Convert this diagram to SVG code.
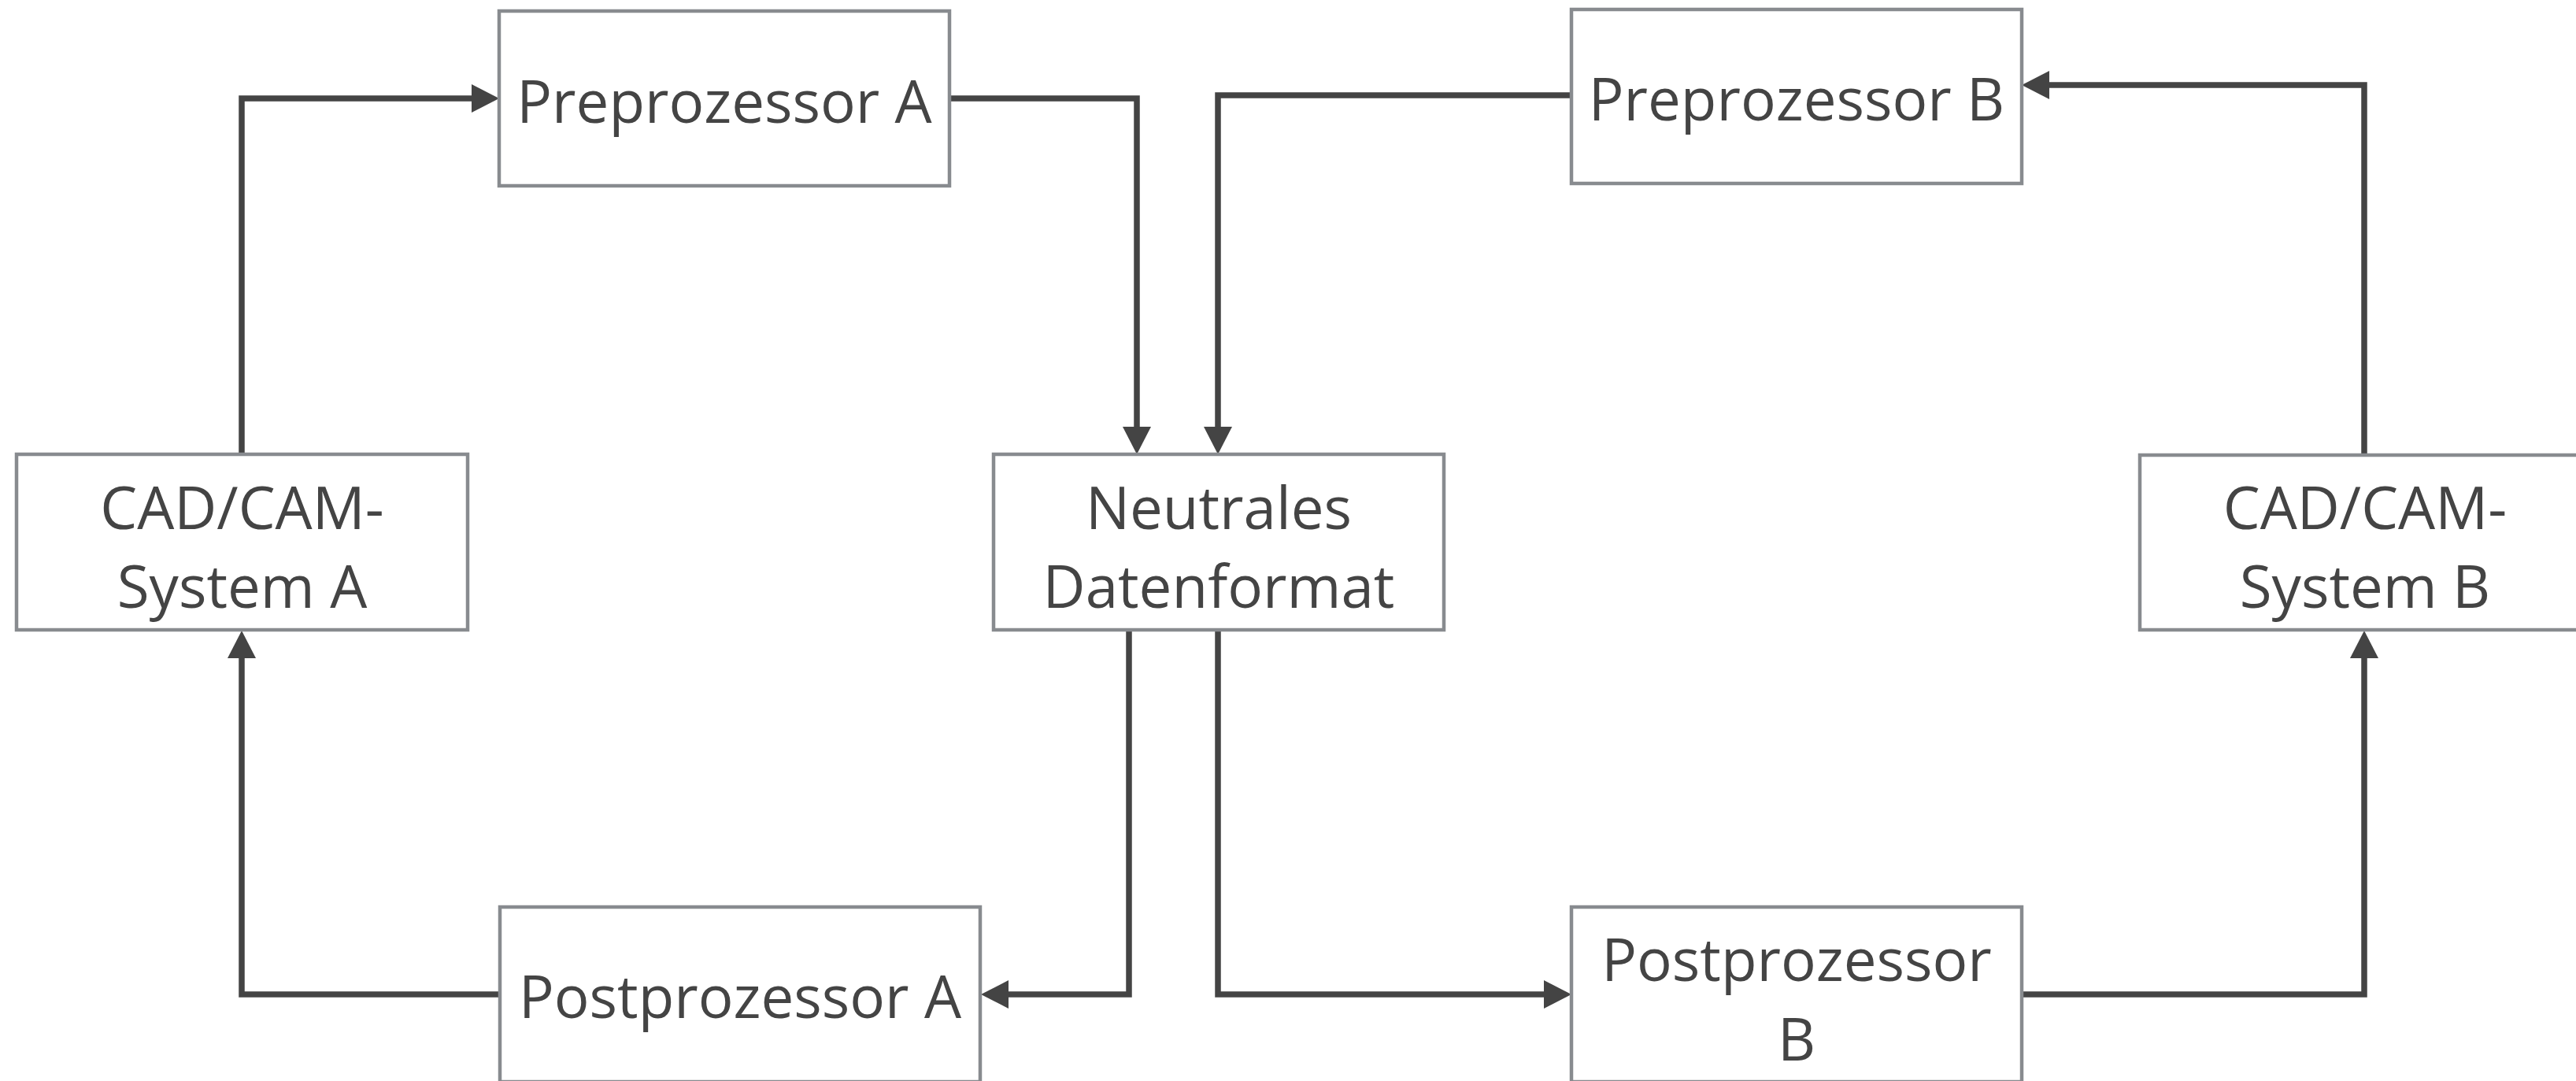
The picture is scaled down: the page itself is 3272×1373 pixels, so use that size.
<svg xmlns="http://www.w3.org/2000/svg" width="3272" height="1373" viewBox="0 0 3272 1373">
<style>
.box{fill:#ffffff;stroke:#888b8f;stroke-width:4.5}
.lbl{font-family:"Open Sans","Noto Sans",sans-serif;font-size:74.5px;fill:#444444;text-anchor:middle}
.con{fill:none;stroke:#444444;stroke-width:7.5}
</style>
<defs>
<marker id="arr" markerUnits="userSpaceOnUse" markerWidth="40" markerHeight="40" refX="0" refY="18" orient="auto" viewBox="0 0 40 40">
<path d="M0,0 L35,18 L0,36 Z" fill="#444444"/>
</marker>
</defs>
<rect width="3272" height="1373" fill="#ffffff"/>
<g id="connectors">
<path class="con" d="M307,577 V125 H599" marker-end="url(#arr)"/>
<path class="con" d="M1206,125 H1444 V542" marker-end="url(#arr)"/>
<path class="con" d="M1996,121 H1547 V542" marker-end="url(#arr)"/>
<path class="con" d="M3003,578 V108 H2603" marker-end="url(#arr)"/>
<path class="con" d="M1434,801 V1263 H1281" marker-end="url(#arr)"/>
<path class="con" d="M1547,801 V1263 H1961" marker-end="url(#arr)"/>
<path class="con" d="M2568,1263 H3003 V836" marker-end="url(#arr)"/>
<path class="con" d="M635,1263 H307 V836" marker-end="url(#arr)"/>
</g>
<g id="preA"><rect class="box" x="634" y="14" width="572" height="222"/><text class="lbl" x="920" y="156">Preprozessor A</text></g>
<g id="preB"><rect class="box" x="1996" y="12" width="572" height="221"/><text class="lbl" x="2282" y="153">Preprozessor B</text></g>
<g id="cadA"><rect class="box" x="21" y="577" width="573" height="223"/><text class="lbl" x="307.5" y="672">CAD/CAM-</text><text class="lbl" x="307.5" y="772">System A</text></g>
<g id="neutral"><rect class="box" x="1262" y="577" width="572" height="223"/><text class="lbl" x="1548" y="672">Neutrales</text><text class="lbl" x="1548" y="772">Datenformat</text></g>
<g id="cadB"><rect class="box" x="2718" y="578" width="572" height="222"/><text class="lbl" x="3004" y="672">CAD/CAM-</text><text class="lbl" x="3004" y="772">System B</text></g>
<g id="postA"><rect class="box" x="635" y="1152" width="610" height="222"/><text class="lbl" x="940" y="1293">Postprozessor A</text></g>
<g id="postB"><rect class="box" x="1996" y="1152" width="572" height="222"/><text class="lbl" x="2282" y="1246">Postprozessor</text><text class="lbl" x="2282" y="1347">B</text></g>
</svg>
